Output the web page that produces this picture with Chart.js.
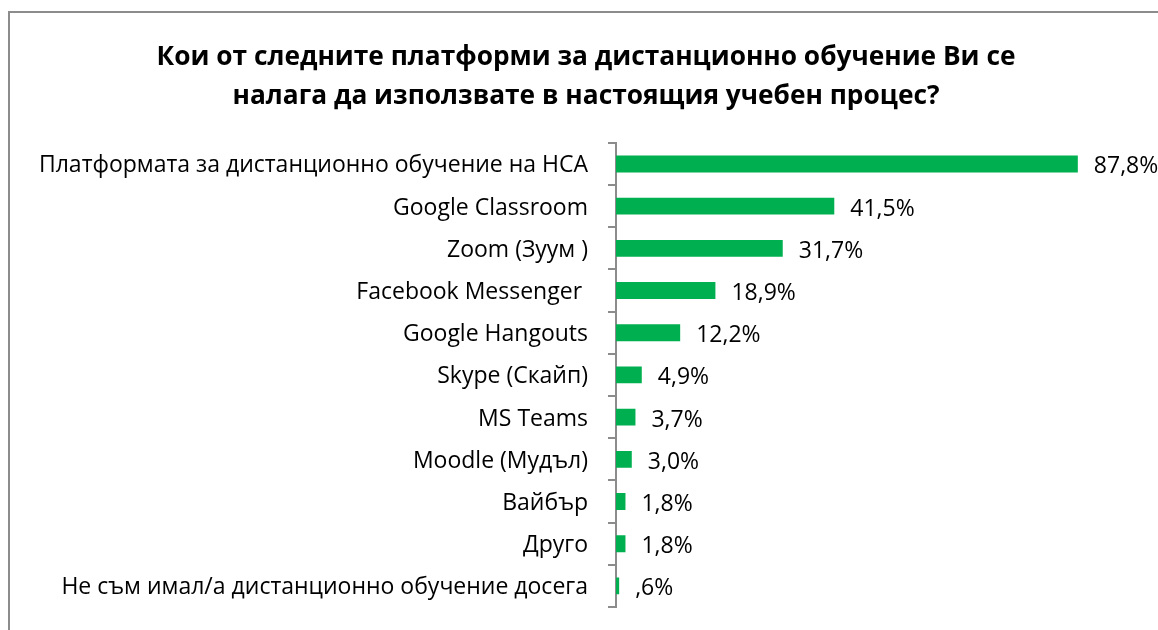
<!DOCTYPE html>
<html>
<head>
<meta charset="utf-8">
<script src="https://cdn.jsdelivr.net/npm/chart.js@4/dist/chart.umd.min.js"></script>
<style>
  html, body { margin: 0; padding: 0; background: #fff; overflow: hidden; }
  #wrap { width: 1158px; height: 630px; position: relative; }
</style>
</head>
<body>
<div id="wrap"><canvas id="chart"></canvas></div>
<script>
const titleLines = ['Кои от следните платформи за дистанционно обучение Ви се', 'налага да използвате в настоящия учебен процес?'];

const categories = [
	'Платформата за дистанционно обучение на НСА',
	'Google Classroom',
	'Zoom (Зуум )',
	'Facebook Messenger ',
	'Google Hangouts',
	'Skype (Скайп)',
	'MS Teams',
	'Moodle (Мудъл)',
	'Вайбър',
	'Друго',
	'Не съм имал/а дистанционно обучение досега'
];

const percentages = [87.8, 41.5, 31.7, 18.9, 12.2, 4.9, 3.7, 3.0, 1.8, 1.8, 0.6];

// Excel style labels: comma decimals, no leading zero
const valueLabels = ['87,8%', '41,5%', '31,7%', '18,9%', '12,2%', '4,9%', '3,7%', '3,0%', '1,8%', '1,8%', ',6%'];

const FontFamily = '"Open Sans", "Noto Sans", sans-serif';
const LabelSize = 23;
const BarColor = '#00B050';
const AxisColor = '#8c8c8c';

// frame around the chart, cut off by the window on the right and bottom
const framePlugin = {
	id: 'frame',
	beforeDraw(chart) {
		const ctx = chart.ctx;
		ctx.save();
		ctx.strokeStyle = AxisColor;
		ctx.lineWidth = 2;
		ctx.strokeRect(9, 12, chart.width + 20, chart.height + 20);
		ctx.restore();
	}
};

const valueLabelPlugin = {
	id: 'valueLabels',
	afterDatasetsDraw(chart) {
		const ctx = chart.ctx;
		const meta = chart.getDatasetMeta(0);
		ctx.save();
		ctx.font = LabelSize + 'px ' + FontFamily;
		ctx.fillStyle = '#000';
		ctx.textAlign = 'left';
		ctx.textBaseline = 'middle';
		meta.data.forEach((bar, i) => {
			ctx.fillText(valueLabels[i], bar.x + 16, bar.y + 3);
		});
		ctx.restore();
	}
};

Chart.defaults.font.family = FontFamily;
Chart.defaults.color = '#000';

new Chart(document.getElementById('chart'), {
	type: 'bar',
	data: {
		labels: categories,
		datasets: [{
			data: percentages,
			backgroundColor: BarColor,
			categoryPercentage: 1,
			barPercentage: 0.4
		}]
	},
	options: {
		indexAxis: 'y',
		responsive: true,
		maintainAspectRatio: false,
		animation: false,
		layout: { padding: { left: 30, right: 16, top: 0, bottom: 23 } },
		scales: {
			x: { display: false, min: 0, max: 100 },
			y: {
				afterFit: (scale) => {
					scale.width = 586;
					scale.paddingTop = 0;
					scale.paddingBottom = 0;
				},
				border: { display: true, color: AxisColor, width: 2 },
				grid: { display: true, offset: true, drawOnChartArea: false, color: AxisColor, lineWidth: 2, tickLength: 8 },
				ticks: { padding: 20, labelOffset: 2, font: { size: LabelSize }, color: '#000' }
			}
		},
		plugins: {
			legend: { display: false },
			tooltip: { enabled: false },
			title: {
				display: true,
				text: titleLines,
				color: '#000',
				font: { size: 26.3, weight: 'bold', lineHeight: 1.48 },
				padding: { top: 38, bottom: 27 }
			}
		}
	},
	plugins: [framePlugin, valueLabelPlugin]
});
</script>
</body>
</html>
